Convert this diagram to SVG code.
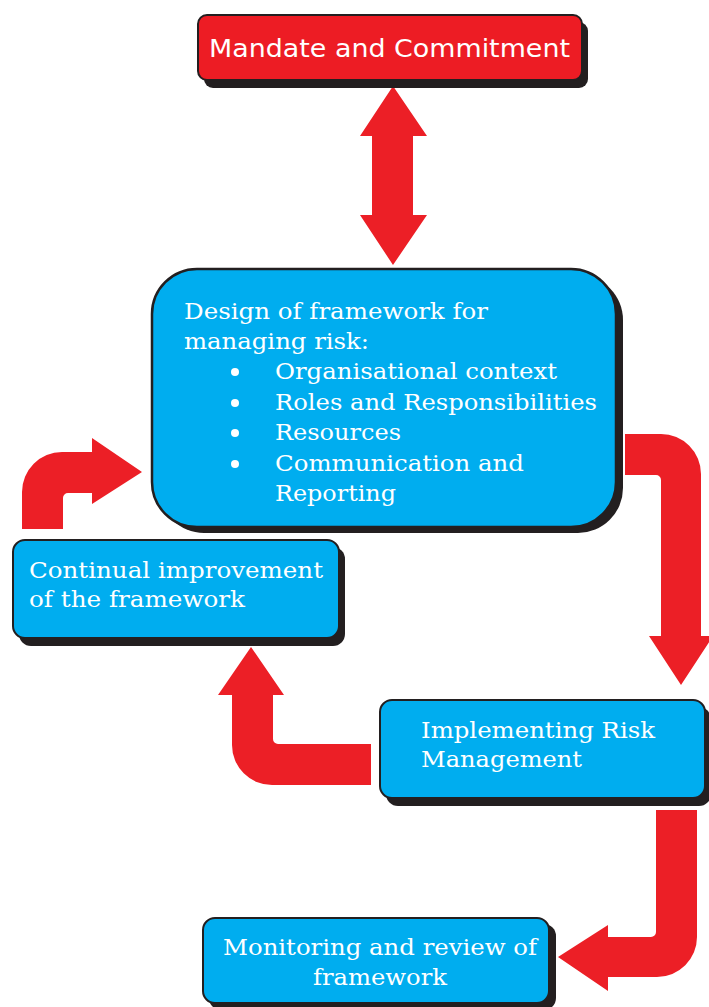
<svg xmlns="http://www.w3.org/2000/svg" width="709" height="1007" viewBox="0 0 709 1007">
  <style>
    .shadow { fill: #231F20; }
    .box { fill: #00ADEF; stroke: #231F20; stroke-width: 2; }
    .box-red { fill: #ED1C24; stroke: #231F20; stroke-width: 2; }
    .label { font-family: "DejaVu Serif", "Liberation Serif", serif; font-size: 23px; fill: #ffffff; }
    .label-sans { font-family: "DejaVu Sans", "Liberation Sans", sans-serif; font-size: 24px; fill: #ffffff; }
    .arrow { fill: #EC1F26; }
    .bullet { fill: #ffffff; }
  </style>

  <!-- connectors: thick red block arrows -->
  <g id="connectors">
    <!-- two-way arrow between mandate and design -->
    <path class="arrow" d="M393,86 L427,136 L413,136 L413,215 L427,215 L393,265 L360,215 L372,215 L372,136 L360,136 Z"/>
    <!-- design -> implementing -->
    <path class="arrow" d="M625,434 L661,434 A40,40 0 0 1 701,474 L701,636 L713,636 L681,685 L649,636 L661,636 L661,480 A5,5 0 0 0 656,475 L625,475 Z"/>
    <!-- implementing -> monitoring -->
    <path class="arrow" d="M656,810 L697,810 L697,937 A40,40 0 0 1 657,977 L608,977 L608,991 L558,957 L608,925 L608,937 L651,937 A5,5 0 0 0 656,932 Z"/>
    <!-- implementing -> continual improvement -->
    <path class="arrow" d="M371,785 L272,785 A40,40 0 0 1 232,745 L232,695 L218,695 L251,647 L284,695 L273,695 L273,739 A5,5 0 0 0 278,744 L371,744 Z"/>
    <!-- continual improvement -> design -->
    <path class="arrow" d="M22,529 L22,492 A40,40 0 0 1 62,452 L92,452 L92,438 L142,472 L92,504 L92,493 L68,493 A5,5 0 0 0 63,498 L63,529 Z"/>
  </g>

  <!-- Mandate and Commitment -->
  <g id="mandate">
    <rect class="shadow" x="204" y="22" width="384" height="66" rx="9"/>
    <rect class="box-red" x="198" y="15" width="384" height="65" rx="9"/>
    <text class="label-sans" x="209" y="57" textLength="361" lengthAdjust="spacingAndGlyphs">Mandate and Commitment</text>
  </g>

  <!-- Design of framework -->
  <g id="design">
    <rect class="shadow" x="159" y="275" width="464" height="258" rx="45"/>
    <rect class="box" x="152" y="269" width="464" height="258" rx="45" style="stroke-width:2.5"/>
    <text class="label" x="184" y="319" textLength="304" lengthAdjust="spacingAndGlyphs">Design of framework for</text>
    <text class="label" x="184" y="349" textLength="185" lengthAdjust="spacingAndGlyphs">managing risk:</text>
    <circle class="bullet" cx="235" cy="372" r="4"/>
    <text class="label" x="275" y="379" textLength="282" lengthAdjust="spacingAndGlyphs">Organisational context</text>
    <circle class="bullet" cx="235" cy="403" r="4"/>
    <text class="label" x="275" y="410" textLength="322" lengthAdjust="spacingAndGlyphs">Roles and Responsibilities</text>
    <circle class="bullet" cx="235" cy="433" r="4"/>
    <text class="label" x="275" y="440" textLength="126" lengthAdjust="spacingAndGlyphs">Resources</text>
    <circle class="bullet" cx="235" cy="464" r="4"/>
    <text class="label" x="275" y="471" textLength="249" lengthAdjust="spacingAndGlyphs">Communication and</text>
    <text class="label" x="275" y="501" textLength="121" lengthAdjust="spacingAndGlyphs">Reporting</text>
  </g>

  <!-- Continual improvement -->
  <g id="continual">
    <rect class="shadow" x="19" y="547" width="326" height="99" rx="12"/>
    <rect class="box" x="13" y="540" width="326" height="98" rx="12"/>
    <text class="label" x="29" y="578" textLength="294" lengthAdjust="spacingAndGlyphs">Continual improvement</text>
    <text class="label" x="29" y="607" textLength="216" lengthAdjust="spacingAndGlyphs">of the framework</text>
  </g>

  <!-- Implementing Risk Management -->
  <g id="implementing">
    <rect class="shadow" x="386" y="707" width="325" height="99" rx="12"/>
    <rect class="box" x="380" y="700" width="325" height="98" rx="12"/>
    <text class="label" x="421" y="738" textLength="234" lengthAdjust="spacingAndGlyphs">Implementing Risk</text>
    <text class="label" x="421" y="767" textLength="161" lengthAdjust="spacingAndGlyphs">Management</text>
  </g>

  <!-- Monitoring and review -->
  <g id="monitoring">
    <rect class="shadow" x="209" y="924" width="347" height="86" rx="12"/>
    <rect class="box" x="203" y="918" width="346" height="85" rx="12"/>
    <text class="label" x="223" y="955" textLength="314" lengthAdjust="spacingAndGlyphs">Monitoring and review of</text>
    <text class="label" x="313" y="985" textLength="134" lengthAdjust="spacingAndGlyphs">framework</text>
  </g>
</svg>
